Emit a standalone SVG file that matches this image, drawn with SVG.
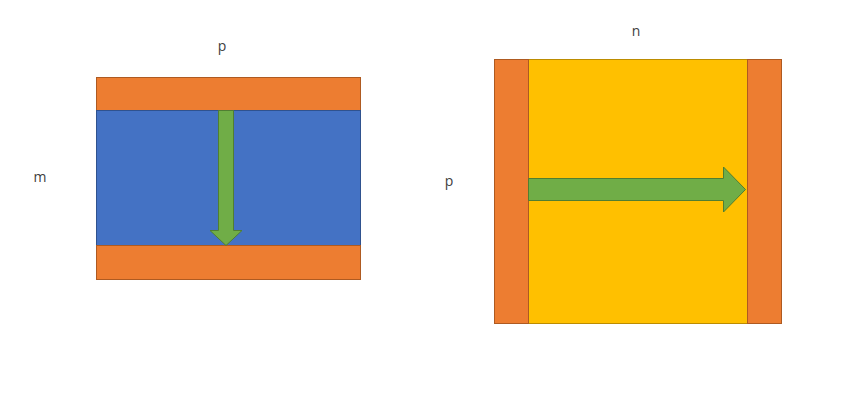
<svg xmlns="http://www.w3.org/2000/svg" width="849" height="409" viewBox="0 0 849 409">
<style>
.or{fill:#ED7D31;stroke:#AE5A21;stroke-width:1}
.bl{fill:#4472C4;stroke:#2F528F;stroke-width:1}
.ye{fill:#FFC000;stroke:#BC8C00;stroke-width:1}
.gr{fill:#70AD47;stroke:#507E32;stroke-width:1}
.lb{font-family:"Open Sans","Noto Sans",sans-serif;font-size:14px;fill:#404040;text-anchor:middle}
</style>
<rect width="849" height="409" fill="#FFFFFF"/>
<g id="left">
<rect class="or" x="96.5" y="77.5" width="264" height="33"/>
<rect class="bl" x="96.5" y="110.5" width="264" height="135"/>
<rect class="or" x="96.5" y="245.5" width="264" height="34"/>
</g>
<g id="right">
<rect class="ye" x="494.5" y="59.5" width="287" height="264"/>
<rect class="or" x="494.5" y="59.5" width="34" height="264"/>
<rect class="or" x="747.5" y="59.5" width="34" height="264"/>
</g>
<g id="connectors">
<path class="gr" d="M218.5,110.5 H233.5 V230.5 H242 L226,245.5 L210,230.5 H218.5 Z"/>
<path class="gr" d="M528.5,178.5 H723.5 V167 L745.5,189.5 L723.5,212 V200.5 H528.5 Z"/>
</g>
<g id="labels">
<text class="lb" x="222" y="51">p</text>
<text class="lb" x="40" y="182">m</text>
<text class="lb" x="636" y="36">n</text>
<text class="lb" x="449" y="186">p</text>
</g>
</svg>
